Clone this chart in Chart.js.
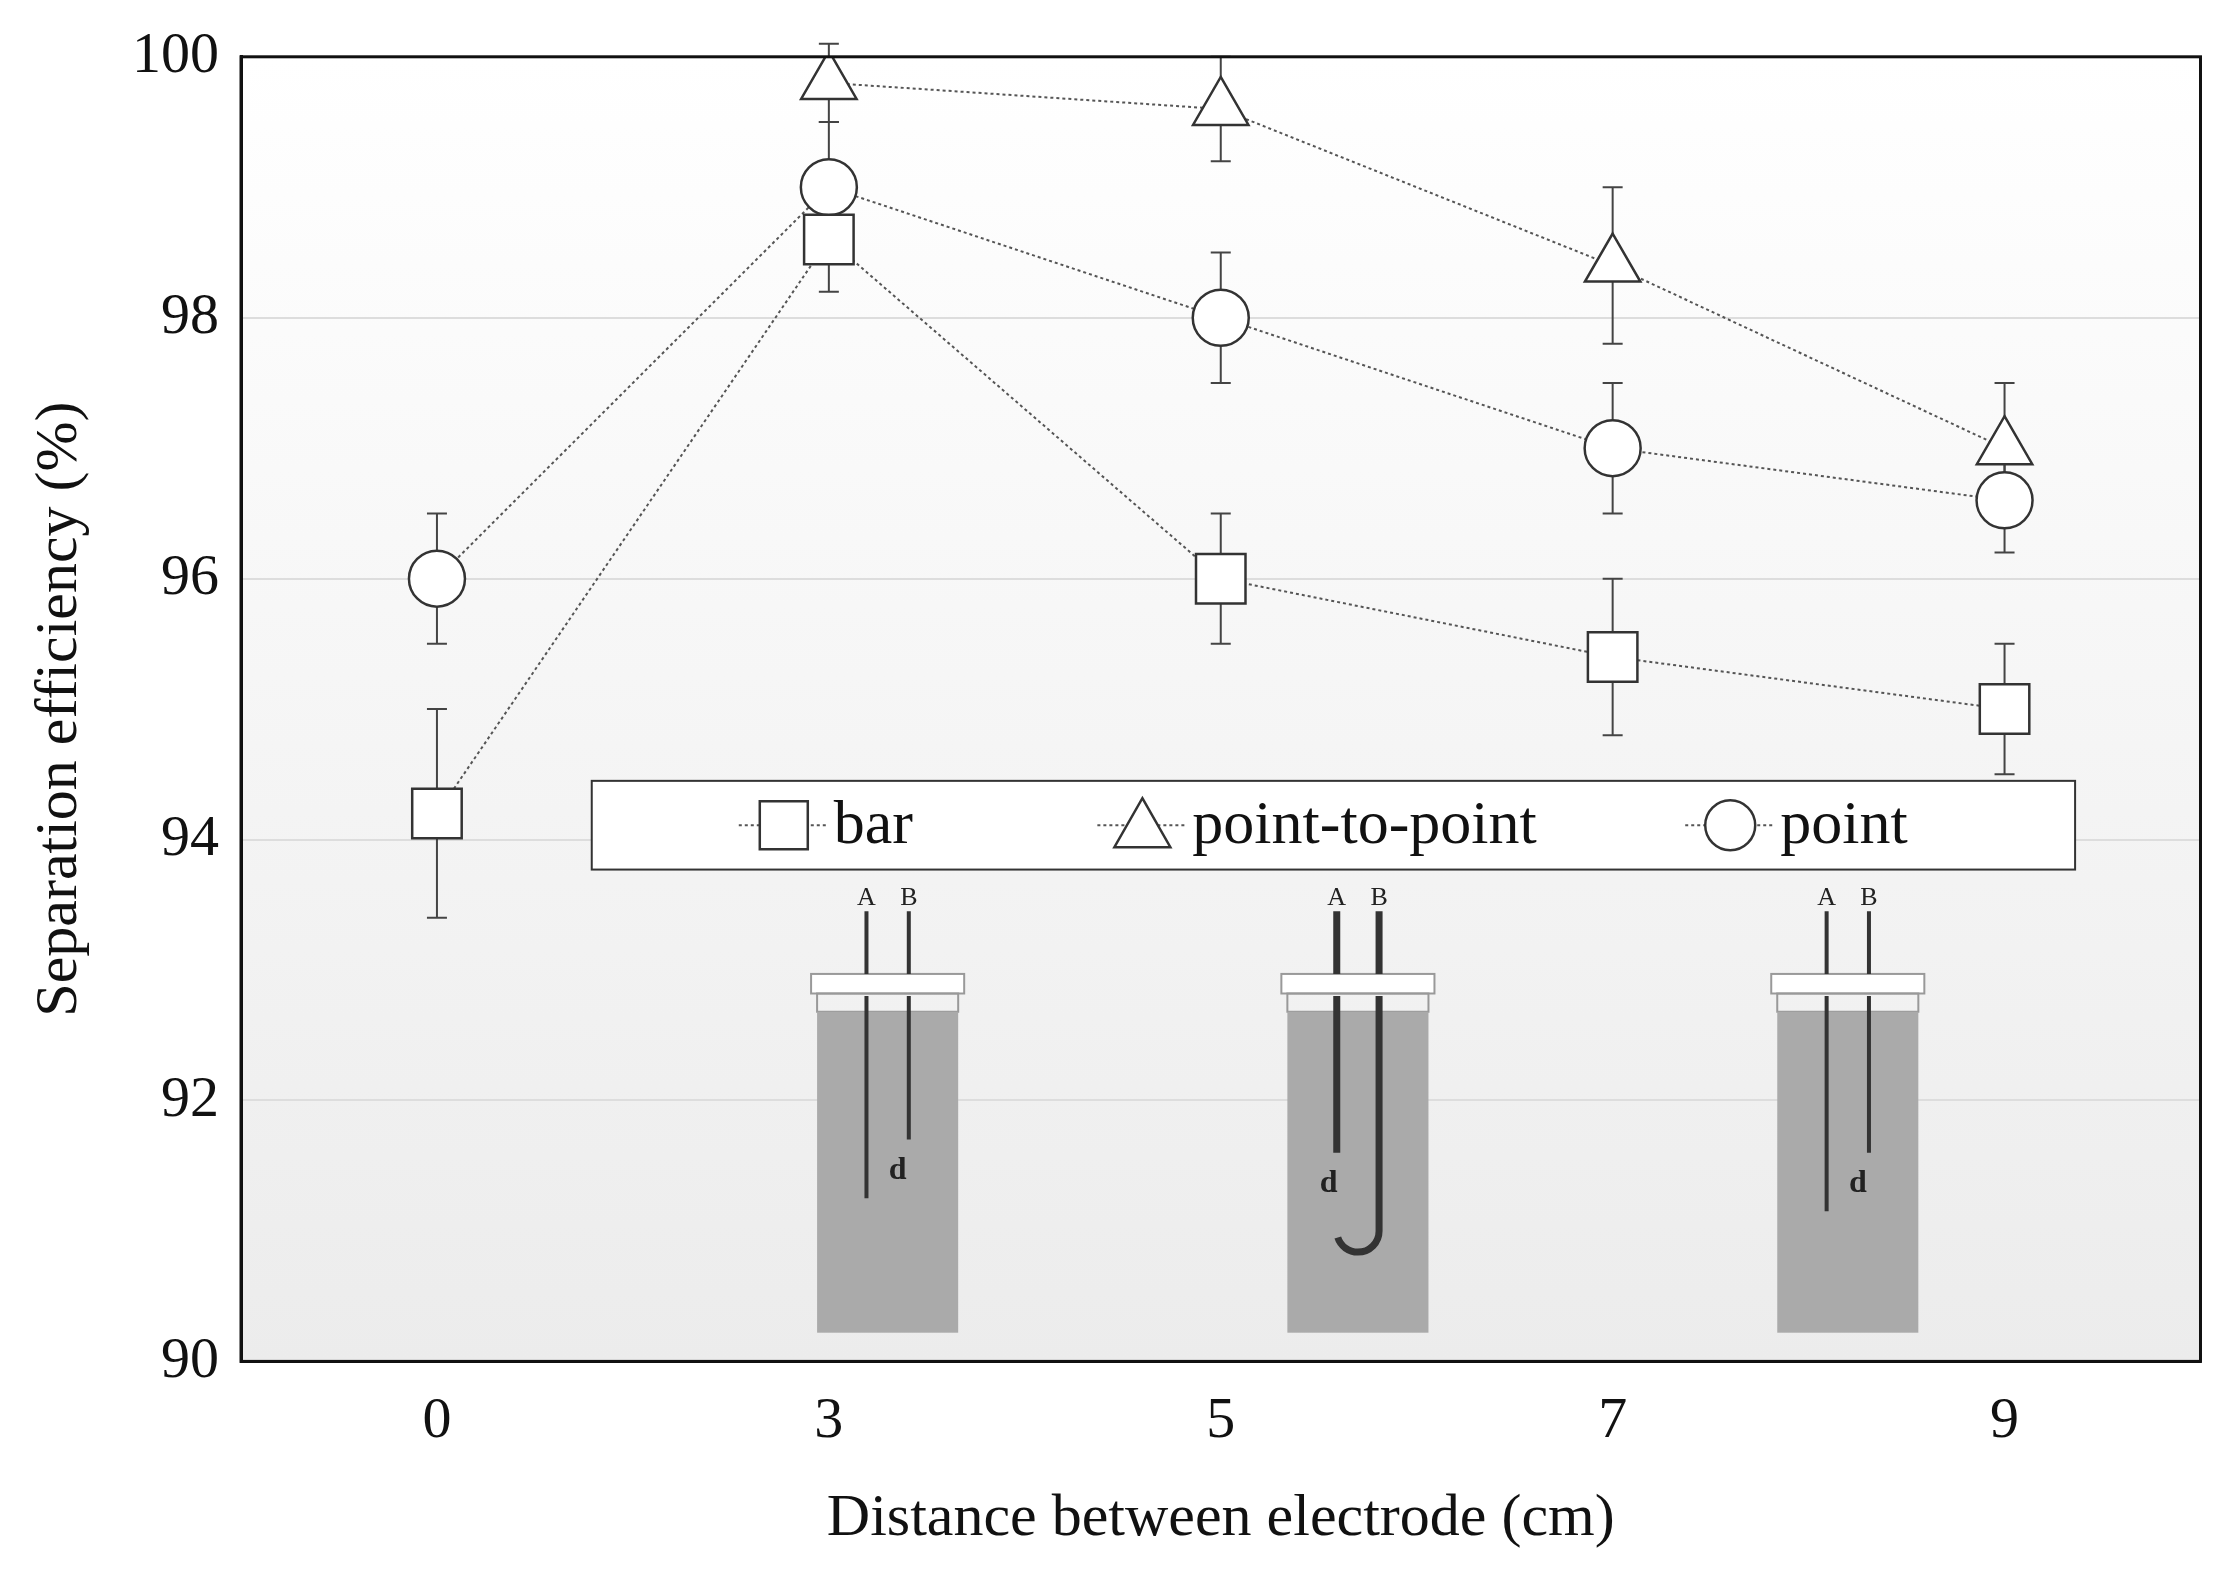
<!DOCTYPE html>
<html><head><meta charset="utf-8">
<script src="https://cdn.jsdelivr.net/npm/chart.js@4"></script>
<style>html,body{margin:0;background:#fff}#w{width:2238px;height:1573px}</style>
</head><body><div id="w"><canvas id="c"></canvas></div>
<script>
const categories = ['0','3','5','7','9'];
const barVals = [94.2, 98.6, 96.0, 95.4, 95.0];
const barErr = [0.8, 0.4, 0.5, 0.6, 0.5];
const ptpVals = [null, 99.8, 99.6, 98.4, 97.0];
const ptpErr = [null, 0.3, 0.4, 0.6, 0.5];
const pointVals = [96.0, 99.0, 98.0, 97.0, 96.6];
const pointErr = [0.5, 0.5, 0.5, 0.5, 0.4];
const yTicks = [90, 92, 94, 96, 98, 100];
const FONT = '"Liberation Serif", "DejaVu Serif", serif';
const errs = [barErr, ptpErr, pointErr];

const bgPlugin = {id:'bg', beforeDraw(ch){
  const {ctx, chartArea:a} = ch;
  const g = ctx.createLinearGradient(0,a.top,0,a.bottom);
  g.addColorStop(0,'#ffffff'); g.addColorStop(1,'#ececec');
  ctx.save(); ctx.fillStyle=g; ctx.fillRect(a.left,a.top,a.right-a.left,a.bottom-a.top); ctx.restore();
}};
const errPlugin = {id:'err', beforeDatasetsDraw(ch){
  const ctx=ch.ctx, x=ch.scales.x, y=ch.scales.y;
  ctx.save(); ctx.strokeStyle='#444'; ctx.lineWidth=2;
  ch.data.datasets.forEach((ds,i)=>{ ds.data.forEach((v,j)=>{
    if(v==null) return; const e=errs[i][j]; const px=x.getPixelForValue(j);
    const t=y.getPixelForValue(v+e), b=y.getPixelForValue(v-e);
    ctx.beginPath(); ctx.moveTo(px,t); ctx.lineTo(px,b);
    ctx.moveTo(px-10,t); ctx.lineTo(px+10,t); ctx.moveTo(px-10,b); ctx.lineTo(px+10,b); ctx.stroke();
  });});
  ctx.restore();
}};
const overlay = {id:'ov', afterDatasetsDraw(ch){
  const ctx=ch.ctx, x=ch.scales.x, y=ch.scales.y, a=ch.chartArea, W=a.right-a.left;
  ctx.save();
  const centers=[1.15, 2.35, 3.6];
  const hw = (x.getPixelForValue(1)-x.getPixelForValue(0))*0.18;
  centers.forEach((c,k)=>{
    const cx = x.getPixelForValue(0)+(x.getPixelForValue(1)-x.getPixelForValue(0))*c;
    const lidT=y.getPixelForValue(92.97), lidB=y.getPixelForValue(92.82);
    const liq=y.getPixelForValue(92.68), bot=y.getPixelForValue(90.22);
    ctx.fillStyle='#fff'; ctx.strokeStyle='#999'; ctx.lineWidth=2;
    ctx.fillRect(cx-hw-6,lidT,2*hw+12,lidB-lidT); ctx.strokeRect(cx-hw-6,lidT,2*hw+12,lidB-lidT);
    ctx.strokeRect(cx-hw,lidB,2*hw,liq-lidB);
    ctx.fillStyle='#aaaaaa'; ctx.fillRect(cx-hw,liq,2*hw,bot-liq);
    const xa=cx-hw*0.3, xb=cx+hw*0.3;
    ctx.strokeStyle='#333'; ctx.lineWidth=k==1?7:4;
    ctx.beginPath(); ctx.moveTo(xa,y.getPixelForValue(93.45)); ctx.lineTo(xa,lidT);
    ctx.moveTo(xb,y.getPixelForValue(93.45)); ctx.lineTo(xb,lidT); ctx.stroke();
    ctx.beginPath();
    if(k==0){ ctx.moveTo(xa,y.getPixelForValue(92.8)); ctx.lineTo(xa,y.getPixelForValue(91.25));
      ctx.moveTo(xb,y.getPixelForValue(92.8)); ctx.lineTo(xb,y.getPixelForValue(91.7)); }
    else if(k==1){ ctx.moveTo(xa,y.getPixelForValue(92.8)); ctx.lineTo(xa,y.getPixelForValue(91.6));
      ctx.moveTo(xb,y.getPixelForValue(92.8)); ctx.lineTo(xb,y.getPixelForValue(91.0));
      ctx.arc((xa+xb)/2,y.getPixelForValue(91.0),(xb-xa)/2,0,Math.PI*0.9); }
    else { ctx.moveTo(xa,y.getPixelForValue(92.8)); ctx.lineTo(xa,y.getPixelForValue(91.15));
      ctx.moveTo(xb,y.getPixelForValue(92.8)); ctx.lineTo(xb,y.getPixelForValue(91.6)); }
    ctx.stroke();
    ctx.fillStyle='#222'; ctx.font='26px '+FONT; ctx.textAlign='center';
    ctx.fillText('A',xa,y.getPixelForValue(93.5)); ctx.fillText('B',xb,y.getPixelForValue(93.5));
    ctx.font='bold 32px '+FONT;
    const dx = k==1? xa-8 : (xa+xb)/2+10;
    ctx.fillText('d',dx,y.getPixelForValue(k==0?91.4:91.3));
  });
  const l=a.left+W*0.179, r=a.left+W*0.936, t=y.getPixelForValue(94.45), b=y.getPixelForValue(93.77);
  ctx.fillStyle='#fff'; ctx.strokeStyle='#333'; ctx.lineWidth=2;
  ctx.fillRect(l,t,r-l,b-t); ctx.strokeRect(l,t,r-l,b-t);
  const my=(t+b)/2;
  const items=[['rect','bar',0.277],['triangle','point-to-point',0.46],['circle','point',0.76]];
  ctx.font='62px '+FONT; ctx.textBaseline='middle'; ctx.textAlign='left';
  items.forEach(([s,txt,f])=>{
    const sx=a.left+W*f;
    ctx.strokeStyle='#555'; ctx.lineWidth=2; ctx.setLineDash([3,3]);
    ctx.beginPath(); ctx.moveTo(sx-45,my); ctx.lineTo(sx+45,my); ctx.stroke(); ctx.setLineDash([]);
    ctx.fillStyle='#fff'; ctx.strokeStyle='#333'; ctx.lineWidth=2.5; ctx.beginPath();
    if(s=='rect') ctx.rect(sx-24,my-24,48,48);
    else if(s=='triangle'){ ctx.moveTo(sx,my-27); ctx.lineTo(sx+28,my+22); ctx.lineTo(sx-28,my+22); ctx.closePath(); }
    else ctx.arc(sx,my,25,0,2*Math.PI);
    ctx.fill(); ctx.stroke();
    ctx.fillStyle='#111'; ctx.fillText(txt,sx+50,my+2);
  });
  ctx.restore();
}};
const mk = (label,data,style,r)=>({label,data,pointStyle:style,pointRadius:r,pointHoverRadius:r,
  borderColor:'#555',borderWidth:2,borderDash:[3,3],pointBorderColor:'#333',pointBackgroundColor:'#fff',
  pointBorderWidth:2.5,fill:false,tension:0,spanGaps:false});
new Chart(document.getElementById('c'),{
  type:'line',
  data:{labels:categories,datasets:[mk('bar',barVals,'rect',35),mk('point-to-point',ptpVals,'triangle',32),mk('point',pointVals,'circle',28)]},
  options:{responsive:true,maintainAspectRatio:false,animation:false,
    layout:{padding:{left:20,right:24,top:36,bottom:14}},
    plugins:{legend:{display:false},tooltip:{enabled:false}},
    scales:{
      x:{offset:true,grid:{display:false,drawTicks:false},border:{color:'#111',width:3},
        ticks:{color:'#111',font:{family:FONT,size:58},padding:26},
        title:{display:true,text:'Distance between electrode (cm)',color:'#111',font:{family:FONT,size:60},padding:{top:0}}},
      y:{min:90,max:100,grid:{color:c=>(c.tick.value>90&&c.tick.value<100&&c.tick.value%2==0)?'#dddddd':'rgba(0,0,0,0)',drawTicks:false,lineWidth:2},
        border:{color:'#111',width:3},
        ticks:{stepSize:2,color:'#111',font:{family:FONT,size:58},padding:22},
        afterBuildTicks:s=>{s.ticks=yTicks.map(v=>({value:v}));},
        title:{display:true,text:'Separation efficiency (%)',color:'#111',font:{family:FONT,size:60},padding:{bottom:14}}}
    }},
  plugins:[bgPlugin,errPlugin,overlay,{id:'frame',afterDraw(ch){const a=ch.chartArea,c=ch.ctx;c.save();c.strokeStyle='#111';c.lineWidth=3;c.strokeRect(a.left,a.top,a.right-a.left,a.bottom-a.top);c.restore();}}]
});
</script></body></html>
